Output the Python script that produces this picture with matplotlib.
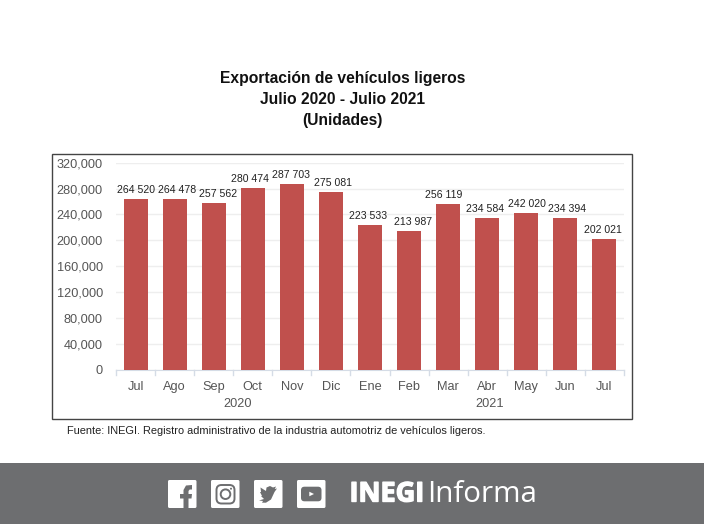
"""Exportacion de vehiculos ligeros, bar chart"""

import matplotlib
matplotlib.use('Agg')
import matplotlib.pyplot as plt
import matplotlib.patheffects as pe
from matplotlib.patches import Rectangle, FancyBboxPatch, Circle, Polygon
from matplotlib.ticker import FuncFormatter

months = ['Jul', 'Ago', 'Sep', 'Oct', 'Nov', 'Dic', 'Ene', 'Feb', 'Mar', 'Abr', 'May', 'Jun', 'Jul']
units = [264520, 264478, 257562, 280474, 287703, 275081, 223533, 213987, 256119, 234584, 242020, 234394, 202021]
y_ticks = [0, 40000, 80000, 120000, 160000, 200000, 240000, 280000, 320000]
title_lines = ['Exportación de vehículos ligeros', 'Julio 2020 - Julio 2021', '(Unidades)']
source = 'Fuente: INEGI. Registro administrativo de la industria automotriz de vehículos ligeros.'

W, H = 704, 524
plt.rcParams['font.family'] = ['Liberation Sans', 'DejaVu Sans']

fig = plt.figure(figsize=(W / 100, H / 100), dpi=100, facecolor='white')

# whole figure in pixel coords, for the frame, footer and icons
bg = fig.add_axes([0, 0, 1, 1])
bg.set_xlim(0, W)
bg.set_ylim(H, 0)
bg.axis('off')

bg.add_patch(Rectangle((52, 153.5), 580, 265.5, fc='white', ec='#444444', lw=1))
bg.add_patch(Rectangle((0, 463), W, 61, fc='#6d6e70', ec='none'))

for y, line in zip([78, 100, 121], title_lines):
    bg.text(342.5, y, line, ha='center', va='center', fontsize=11.25, fontweight='bold', color='#111111')
bg.text(67, 431, source, ha='left', va='center', fontsize=7.9, color='#222222')

ax = fig.add_axes([116 / W, 1 - 369.5 / H, 508 / W, 206.8 / H])
x = range(len(units))
ax.bar(x, units, width=0.615, color='#c0504d', zorder=3)
ax.set_xlim(-0.5, len(units) - 0.5)
ax.set_ylim(0, 320000)
ax.set_yticks(y_ticks)
ax.yaxis.set_major_formatter(FuncFormatter(lambda v, pos: '{:,.0f}'.format(v)))
ax.set_xticks(list(x))
ax.set_xticklabels(months)
ax.tick_params(axis='y', length=0, labelsize=9.2, labelcolor='#555555', pad=9.5)
ax.tick_params(axis='x', length=0, labelsize=9.2, labelcolor='#555555', pad=8)
ax.grid(axis='y', color='#eeeeee', lw=1, zorder=0)
ax.patch.set_alpha(0)
for side in ['top', 'left', 'right']:
    ax.spines[side].set_visible(False)
ax.spines['bottom'].set_color('#d5dce6')

# category separators below the axis
for i in range(len(units) + 1):
    ax.plot([i - 0.5, i - 0.5], [0, -8500], color='#d5dce6', lw=1, clip_on=False)

# the original chart nudges its labels sideways so they don't collide (pixels)
label_shift = [0.5, 2.4, 4.3, -2.7, -0.8, 2, -2, 4, -4, -2, 1, 1.6, -1.4]
for i, v in enumerate(units):
    label = '{:,}'.format(v).replace(',', ' ')
    ax.annotate(label, (i, v), xytext=(label_shift[i] * 0.72, 6.3), textcoords='offset points',
                ha='center', va='center', fontsize=7.6, color='#222222', zorder=4)

# year labels under each group
ax.text(2.6, -0.165, '2020', transform=ax.get_xaxis_transform(), ha='center', va='center',
        fontsize=9.2, color='#555555')
ax.text(9.05, -0.165, '2021', transform=ax.get_xaxis_transform(), ha='center', va='center',
        fontsize=9.2, color='#555555')

# footer icons
grey = '#6d6e70'
for left in [168, 211, 254, 297]:
    bg.add_patch(FancyBboxPatch((left, 480), 28.5, 28, boxstyle='round,pad=0,rounding_size=1.5', fc='white', ec='none'))

letter_f = [(192, 485), (192, 489.5), (189.7, 489.5), (188.5, 491), (188.5, 494), (192, 494), (191.5, 498.5),
            (188.5, 498.5), (188.5, 508), (183.5, 508), (183.5, 498.5), (180, 498.5), (180, 494), (183.5, 494),
            (183.5, 490), (186, 485.5)]
bg.add_patch(Polygon(letter_f, closed=True, fc=grey, ec='none'))

bg.add_patch(FancyBboxPatch((216.5, 485), 18, 18.5, boxstyle='round,pad=0,rounding_size=5', fc='none', ec=grey, lw=1.4))
bg.add_patch(Circle((225.5, 494.2), 4.8, fc='none', ec=grey, lw=1.4))
bg.add_patch(Circle((231, 488.7), 1, fc=grey, ec='none'))

bird = [(259, 500.5), (263, 501), (262, 502.7), (266, 502.7), (271, 499.5), (274.5, 492), (277, 488.5), (274.7, 489),
        (276, 486.5), (273, 487.5), (270, 486), (266.5, 487.5), (266, 491), (260.5, 487.5), (261, 492), (260, 492),
        (262, 496), (261, 496), (264, 499)]
bg.add_patch(Polygon(bird, closed=True, fc=grey, ec='none'))

bg.add_patch(FancyBboxPatch((301, 486.7), 20.5, 14.6, boxstyle='round,pad=0,rounding_size=3.5', fc=grey, ec='none'))
bg.add_patch(Polygon([(309.3, 491.7), (309.3, 496.3), (314, 494)], closed=True, fc='white', ec='none'))

bg.text(349.5, 494.5, 'INEGI', ha='left', va='center', fontsize=19.5, fontweight='bold', color='white',
        family=['Open Sans', 'DejaVu Sans'], path_effects=[pe.withStroke(linewidth=1, foreground='white')])
bg.text(427, 495, 'Informa', ha='left', va='center', fontsize=21.3, color='white',
        family=['Open Sans', 'DejaVu Sans'])

fig.savefig('out.png', dpi=100, facecolor='white')
